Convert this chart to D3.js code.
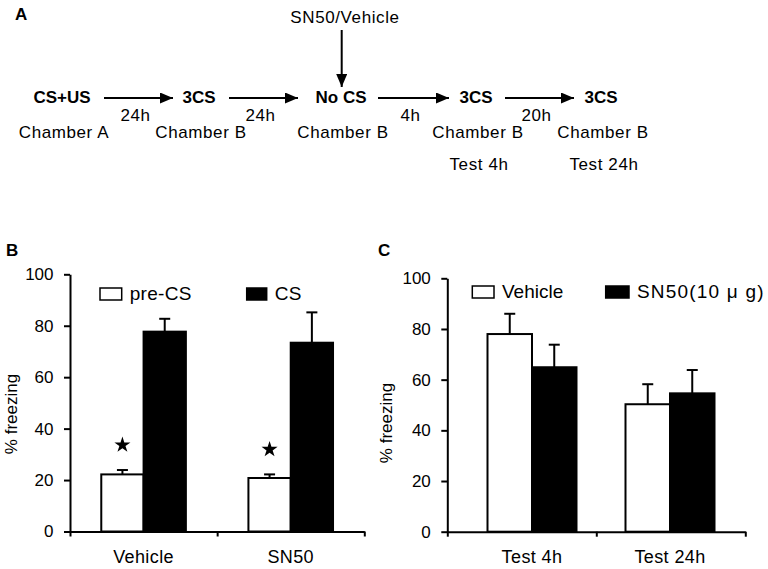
<!DOCTYPE html>
<html><head><meta charset="utf-8">
<script src="https://cdn.jsdelivr.net/npm/d3@7"></script>
<style>
body{margin:0;background:#fff}
svg{display:block}
text{font-family:"Liberation Sans",Arial,sans-serif;fill:#000}
</style>
</head><body>
<svg id="chart" width="768" height="569"></svg>
<script>
// ---------------- DATA ----------------
// Panel A (protocol diagram)
const flowSteps = ["CS+US", "3CS", "No CS", "3CS", "3CS"];
const flowChambers = ["Chamber A", "Chamber B", "Chamber B", "Chamber B", "Chamber B"];
const flowTests = ["", "", "", "Test 4h", "Test 24h"];
const flowDelays = ["24h", "24h", "4h", "20h"];
const injectionLabel = "SN50/Vehicle";
const injectionStep = 2;

// Panel B
const groupsB = ["Vehicle", "SN50"];
const seriesB = ["pre-CS", "CS"];
const preCS = [22.2, 20.8];
const preCSErr = [1.7, 1.4];
const csB = [77.7, 73.4];
const csBErr = [5.0, 11.8];
const starB = [true, true];

// Panel C
const groupsC = ["Test 4h", "Test 24h"];
const seriesC = ["Vehicle", "SN50(10 \u03bc g)"];
const vehicleC = [78.0, 50.3];
const vehicleCErr = [8.0, 7.9];
const sn50C = [64.9, 54.6];
const sn50CErr = [8.9, 9.2];

const yTicks = [0, 20, 40, 60, 80, 100];
const yLabel = "% freezing";
const panelLetters = ["A", "B", "C"];

// ---------------- DRAW ----------------
const svg = d3.select("#chart");
svg.append("rect").attr("width", 768).attr("height", 569).attr("fill", "#fff");

const defs = svg.append("defs");
defs.append("marker").attr("id", "ah")
  .attr("markerUnits", "userSpaceOnUse")
  .attr("markerWidth", 14).attr("markerHeight", 11)
  .attr("refX", 13).attr("refY", 5.5).attr("orient", "auto")
  .append("path").attr("d", "M0,0 L13,5.5 L0,11 Z").attr("fill", "#000");

// ---- Panel A ----
const A = svg.append("g");
A.append("text").attr("x", 15).attr("y", 20).attr("font-size", 17).attr("font-weight", "bold").text(panelLetters[0]);

const stepX = [62, 199, 341, 476, 601];        // layout: step centres
const arrowSpan = [[104, 173], [229, 298], [378, 449], [505, 574]]; // layout
const rowY = 103, delayY = 121, chamberY = 138, testY = 170;

A.selectAll("text.step").data(flowSteps).join("text")
  .attr("class", "step")
  .attr("x", (d, i) => stepX[i]).attr("y", rowY)
  .attr("text-anchor", "middle").attr("font-size", 17).attr("font-weight", "bold")
  .text(d => d);

A.selectAll("text.cham").data(flowChambers).join("text")
  .attr("class", "cham")
  .attr("x", (d, i) => stepX[i] + 2).attr("y", chamberY)
  .attr("text-anchor", "middle").attr("font-size", 17).attr("letter-spacing", 0.6)
  .text(d => d);

A.selectAll("text.test").data(flowTests).join("text")
  .attr("class", "test")
  .attr("x", (d, i) => stepX[i] + 3).attr("y", testY)
  .attr("text-anchor", "middle").attr("font-size", 17).attr("letter-spacing", 0.6)
  .text(d => d);

A.selectAll("line.arr").data(flowDelays).join("line")
  .attr("class", "arr")
  .attr("x1", (d, i) => arrowSpan[i][0]).attr("x2", (d, i) => arrowSpan[i][1])
  .attr("y1", 98).attr("y2", 98)
  .attr("stroke", "#000").attr("stroke-width", 2)
  .attr("marker-end", "url(#ah)");

A.selectAll("text.delay").data(flowDelays).join("text")
  .attr("class", "delay")
  .attr("x", (d, i) => (arrowSpan[i][0] + arrowSpan[i][1]) / 2 - 3).attr("y", delayY)
  .attr("text-anchor", "middle").attr("font-size", 17).attr("letter-spacing", 0.6)
  .text(d => d);

A.append("text").attr("x", stepX[injectionStep] + 4).attr("y", 23)
  .attr("text-anchor", "middle").attr("font-size", 17).attr("letter-spacing", 0.6)
  .text(injectionLabel);
A.append("line")
  .attr("x1", stepX[injectionStep] + 0.7).attr("x2", stepX[injectionStep] + 0.7)
  .attr("y1", 30).attr("y2", 87)
  .attr("stroke", "#000").attr("stroke-width", 2)
  .attr("marker-end", "url(#ah)");

// ---- Bar panels ----
function barPanel(o) {
  const g = svg.append("g");
  const y = d3.scaleLinear().domain([0, 100]).range([o.yBottom, o.yTop]);
  const xb = d3.scaleBand().domain(o.groups).range(o.barRange || [o.x0, o.x1]);
  const xs = d3.scaleBand().domain(o.series)
    .range([xb.bandwidth() / 2 - o.barW, xb.bandwidth() / 2 + o.barW]);
  const xi = d3.scaleLinear().domain([0, o.groups.length]).range([o.x0, o.x1]);

  // y axis
  const ya = g.append("g").attr("transform", `translate(${o.x0},0)`)
    .call(d3.axisLeft(y).tickValues(yTicks).tickSize(6).tickSizeOuter(0).tickPadding(10.5));
  ya.select(".domain").attr("stroke-width", 2);
  ya.selectAll(".tick line").attr("stroke-width", 2);
  ya.selectAll(".tick text").attr("font-size", 17).attr("font-family", "Liberation Sans, Arial, sans-serif");

  // bars
  const rows = o.groups.map((grp, i) => o.series.map((s, j) => ({
    grp, s, j, v: o.values[j][i], e: o.errs[j][i]
  }))).flat();
  const cx = d => xb(d.grp) + xs(d.s) + xs.bandwidth() / 2;

  g.selectAll("rect.bar").data(rows).join("rect")
    .attr("class", "bar")
    .attr("x", d => xb(d.grp) + xs(d.s))
    .attr("width", xs.bandwidth())
    .attr("y", d => y(d.v))
    .attr("height", d => y(0) - y(d.v))
    .attr("fill", d => o.fills[d.j])
    .attr("stroke", "#000").attr("stroke-width", 2);

  // error bars
  const eb = g.selectAll("g.err").data(rows).join("g").attr("class", "err");
  eb.append("line")
    .attr("x1", cx).attr("x2", cx)
    .attr("y1", d => y(d.v)).attr("y2", d => y(d.v + d.e))
    .attr("stroke", "#000").attr("stroke-width", 2);
  eb.append("line")
    .attr("x1", d => cx(d) - 5.5).attr("x2", d => cx(d) + 5.5)
    .attr("y1", d => y(d.v + d.e)).attr("y2", d => y(d.v + d.e))
    .attr("stroke", "#000").attr("stroke-width", 2);

  // stars
  if (o.stars) {
    const sr = rows.filter(d => d.j === 0 && o.stars[o.groups.indexOf(d.grp)]);
    g.selectAll("path.star").data(sr).join("path")
      .attr("class", "star")
      .attr("d", d3.symbol(d3.symbolStar, 80))
      .attr("transform", d => `translate(${cx(d)},${y(d.v + d.e) - 25})`)
      .attr("fill", "#000");
  }

  // x axis
  const xa = g.append("g").attr("transform", `translate(0,${o.yBottom})`)
    .call(d3.axisBottom(xi).tickValues(d3.range(o.groups.length + 1)).tickFormat("").tickSize(5).tickSizeOuter(0));
  xa.select(".domain").attr("stroke-width", 2);
  xa.selectAll(".tick line").attr("stroke-width", 2);

  g.selectAll("text.cat").data(o.groups).join("text")
    .attr("class", "cat")
    .attr("x", d => xb(d) + xb.bandwidth() / 2)
    .attr("y", o.yBottom + 31)
    .attr("text-anchor", "middle").attr("font-size", 18).attr("letter-spacing", 0.4)
    .text(d => d);

  // y label
  g.append("text")
    .attr("transform", `translate(${o.yLabX},${o.yLabY}) rotate(-90)`)
    .attr("text-anchor", "middle").attr("font-size", 17)
    .text(yLabel);

  // panel letter
  g.append("text").attr("x", o.letterX).attr("y", 256)
    .attr("font-size", 17).attr("font-weight", "bold").text(o.letter);

  // legend
  const lg = g.selectAll("g.leg").data(o.series).join("g").attr("class", "leg");
  lg.append("rect")
    .attr("x", (d, j) => o.legX[j]).attr("y", o.legY - 12)
    .attr("width", (d, j) => o.legW[j]).attr("height", 12)
    .attr("fill", (d, j) => o.fills[j]).attr("stroke", "#000").attr("stroke-width", 1.5);
  lg.append("text")
    .attr("x", (d, j) => o.legX[j] + o.legW[j] + 8).attr("y", o.legY)
    .attr("font-size", 19).attr("letter-spacing", (d, j) => o.legLS ? o.legLS[j] : 0)
    .text(d => d);
}

barPanel({
  x0: 70, x1: 364.3, yTop: 274.3, yBottom: 531.5,
  groups: groupsB, series: seriesB,
  values: [preCS, csB], errs: [preCSErr, csBErr],
  fills: ["#fff", "#000"], barW: 42.3, stars: starB,
  yLabX: 16.5, yLabY: 414, letter: panelLetters[1], letterX: 6,
  legX: [100, 246.7], legW: [21.7, 20], legY: 300, legLS: [0.3, 0.3]
});

barPanel({
  x0: 447.3, x1: 745.3, yTop: 278.3, yBottom: 531.7,
  barRange: [463, 739],
  groups: groupsC, series: seriesC,
  values: [vehicleC, sn50C], errs: [vehicleCErr, sn50CErr],
  fills: ["#fff", "#000"], barW: 44.5,
  yLabX: 391.5, yLabY: 423, letter: panelLetters[2], letterX: 378,
  legX: [472.3, 605.7], legW: [21.7, 23.3], legY: 298, legLS: [0, 1.2]
});
</script>
</body></html>
